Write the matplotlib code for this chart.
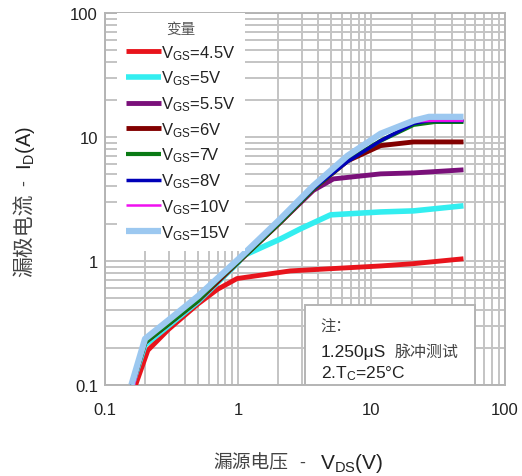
import matplotlib
matplotlib.use("Agg")
import matplotlib.pyplot as plt
from matplotlib.patches import Rectangle

plt.rcParams["font.family"] = ["Liberation Sans", "Noto Sans CJK SC", "DejaVu Sans"]
plt.rcParams["mathtext.fontset"] = "custom"
plt.rcParams["mathtext.rm"] = "Liberation Sans"
plt.rcParams["mathtext.it"] = "Liberation Sans:italic"

# values (V_DS in V, I_D in A)
vgs45_x = [0.17, 0.21, 0.3, 0.5, 0.7, 0.98, 2.46, 11.7, 20.7, 49]
vgs45_y = [0.1, 0.19, 0.28, 0.45, 0.59, 0.72, 0.83, 0.91, 0.95, 1.04]

vgs5_x = [0.16, 0.2, 0.3, 0.5, 1.0, 1.09, 2.07, 2.92, 4.93, 11.7, 20.7, 49]
vgs5_y = [0.1, 0.21, 0.3, 0.47, 0.97, 1.1, 1.5, 1.81, 2.35, 2.48, 2.53, 2.78]

vgs55_x = [0.16, 0.2, 0.3, 0.5, 1.0, 2.07, 3.66, 5.18, 11.7, 20.7, 49]
vgs55_y = [0.1, 0.22, 0.31, 0.48, 0.98, 2.05, 3.7, 4.58, 5.03, 5.12, 5.42]

vgs6_x = [0.16, 0.2, 0.3, 0.5, 1.0, 2.07, 3.66, 6.6, 11.7, 20.7, 49]
vgs6_y = [0.1, 0.22, 0.31, 0.48, 0.98, 2.05, 3.8, 6.4, 8.5, 9.1, 9.1]

vgs7_x = [0.16, 0.2, 0.3, 0.5, 0.7, 1.0, 2.07, 3.66, 6.6, 11.7, 20.7, 30, 49]
vgs7_y = [0.1, 0.22, 0.31, 0.48, 0.7, 0.98, 2.05, 3.8, 6.4, 9.3, 12.5, 13.2, 13.2]

vgs8_x = [0.16, 0.2, 0.3, 0.5, 1.0, 2.07, 3.66, 6.6, 11.7, 20.7, 27, 49]
vgs8_y = [0.1, 0.235, 0.33, 0.51, 1.0, 2.1, 3.85, 6.3, 9.3, 12.8, 13.5, 13.5]

vgs10_x = [0.165, 0.2, 0.3, 0.5, 1.0, 2.07, 3.66, 6.6, 11.7, 20.7, 30, 49]
vgs10_y = [0.1, 0.24, 0.34, 0.53, 1.04, 2.18, 4.05, 7.1, 10.7, 13.3, 13.5, 13.5]

vgs15_x = [0.158, 0.2, 0.3, 0.5, 1.0, 2.07, 3.66, 6.6, 11.7, 20.7, 27, 49]
vgs15_y = [0.1, 0.235, 0.333, 0.52, 1.03, 2.18, 4.03, 7.03, 10.6, 13.5, 14.5, 14.5]

labels = ["4.5V", "5V", "5.5V", "6V", "7V", "8V", "10V", "15V"]
series = [
    (vgs45_x, vgs45_y, "#e8141c", 3.5),
    (vgs55_x, vgs55_y, "#7a107a", 3.5),
    (vgs5_x, vgs5_y, "#33eef0", 4.0),
    (vgs6_x, vgs6_y, "#820000", 3.5),
    (vgs7_x, vgs7_y, "#0a7a14", 3.0),
    (vgs8_x, vgs8_y, "#0000b8", 2.5),
    (vgs10_x, vgs10_y, "#f010f0", 1.8),
    (vgs15_x, vgs15_y, "#9cc8f0", 4.5),
]
order = [0, 2, 1, 3, 4, 5, 6, 7]

fig = plt.figure(figsize=(5.22, 4.77), dpi=100)
ax = fig.add_axes([0.201, 0.191, 0.766, 0.780])

handles = []
for x, y, color, lw in series:
    line, = ax.plot(x, y, color=color, linewidth=lw, solid_capstyle="butt", zorder=3)
    handles.append(line)
handles = [handles[i] for i in order]

ax.set_xscale("log")
ax.set_yscale("log")
ax.set_xlim(0.1, 100)
ax.set_ylim(0.1, 100)
ax.grid(True, which="both", color="#c4c4c4", linewidth=1.4, zorder=0)
ax.set_axisbelow(True)
ax.tick_params(which="both", length=0, labelsize=12, colors="#222222")
ax.tick_params(axis="x", pad=12)
ax.tick_params(axis="y", pad=5)
ax.set_xticks([0.1, 1, 10, 100])
ax.set_xticklabels(["0.1", "1", "10", "100"])
ax.set_yticks([0.1, 1, 10, 100])
ax.set_yticklabels(["0.1", "1", "10", "100"])
for s in ax.spines.values():
    s.set_color("#b4b4b4")
    s.set_linewidth(1.4)

leg = ax.legend(handles, [r"V$_{\rm GS}$=" + s for s in labels],
                loc="upper left", bbox_to_anchor=(0.03, 1.0), frameon=True,
                fancybox=False, framealpha=1, edgecolor="none", fontsize=12,
                handlelength=2.1, handletextpad=0.0, labelspacing=0.42,
                borderaxespad=0.0, borderpad=0.55, title="变量",
                title_fontproperties={"family": "Noto Sans CJK SC", "size": 10.5})
leg.get_title().set_color("#555555")
leg.set_zorder(5)
for t in leg.get_texts():
    t.set_color("#222222")

# note box
ax.add_patch(Rectangle((0.5, 0.0), 0.425, 0.215, transform=ax.transAxes,
                       facecolor="white", edgecolor="#b4b4b4", linewidth=1.4, zorder=6))
ax.text(0.54, 0.159, "注：", transform=ax.transAxes, fontsize=11, color="#444444",
        family="Noto Sans CJK SC", va="center", zorder=7)
ax.text(0.54, 0.091, "1.250μS", transform=ax.transAxes, fontsize=12.5, color="#222222",
        va="center", zorder=7)
ax.text(0.725, 0.091, "脉冲测试", transform=ax.transAxes, fontsize=11.5, color="#444444",
        family="Noto Sans CJK SC", va="center", zorder=7)
ax.text(0.54, 0.032, r"2.T$_{\rm C}$=25°C", transform=ax.transAxes, fontsize=12.5,
        color="#222222", va="center", zorder=7)

fig.text(0.408, 0.029, "漏源电压", family="Noto Sans CJK SC", fontsize=13.5,
         color="#444444", ha="left", va="center")
fig.text(0.578, 0.029, "-", fontsize=13, color="#444444", ha="center", va="center")
fig.text(0.613, 0.029, r"V$_{\rm DS}$(V)", fontsize=15, color="#222222",
         ha="left", va="center")
fig.text(0.048, 0.595, "漏极电流", family="Noto Sans CJK SC", fontsize=15,
         color="#444444", rotation=90, ha="center", va="top")
fig.text(0.048, 0.616, "-", fontsize=13, color="#444444", rotation=90,
         ha="center", va="center")
fig.text(0.048, 0.644, r"I$_{\rm D}$(A)", fontsize=14.5, color="#222222",
         rotation=90, ha="center", va="bottom")

fig.savefig("out.png", dpi=100)
